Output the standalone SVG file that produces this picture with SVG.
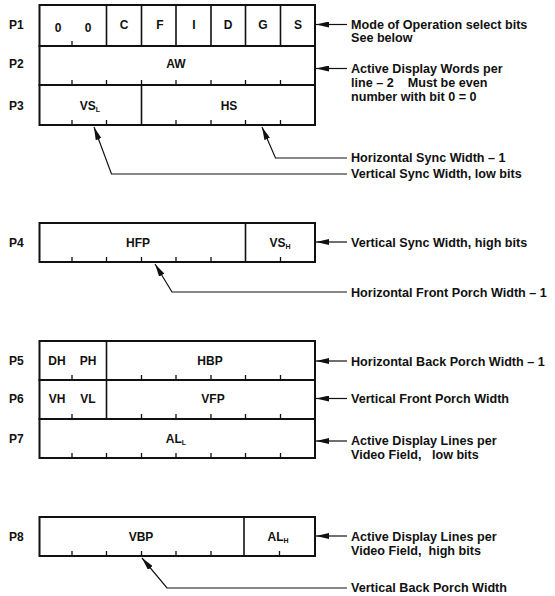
<svg xmlns="http://www.w3.org/2000/svg" width="555" height="596" viewBox="0 0 555 596">
<style>
.box{fill:none;stroke:#111;stroke-width:2}
.dv{stroke:#111;stroke-width:1.6;fill:none}
.tk{stroke:#111;stroke-width:1.3;fill:none}
.lbl{font-family:"Liberation Sans",Arial,sans-serif;font-weight:bold;font-size:12px;fill:#111}
.cell{font-family:"Liberation Sans",Arial,sans-serif;font-weight:bold;font-size:12px;fill:#111;text-anchor:middle}
.note{font-family:"Liberation Sans",Arial,sans-serif;font-weight:bold;font-size:12.6px;fill:#111}
.sub{font-size:7px}
.conn{stroke:#111;stroke-width:1.2;fill:none;marker-end:url(#ah)}
</style>
<defs>
<marker id="ah" viewBox="0 0 13 6" refX="13" refY="3" markerWidth="13" markerHeight="6" markerUnits="userSpaceOnUse" orient="auto">
<path d="M0,0 L13,3 L0,6 z" fill="#111"/>
</marker>
</defs>
<rect width="555" height="596" fill="#fff"/>

<g id="P1">
<text class="lbl" x="9" y="29">P1</text>
<rect class="box" x="39.5" y="5" width="275.5" height="41"/>
<path class="dv" d="M106.5,5V46M141.5,5V46M176,5V46M211,5V46M245.5,5V46M280.5,5V46"/>
<path class="tk" d="M72,41V46"/>
<text class="cell" x="58" y="32">0</text>
<text class="cell" x="88" y="32">0</text>
<text class="cell" x="124" y="29">C</text>
<text class="cell" x="160" y="29">F</text>
<text class="cell" x="194" y="29">I</text>
<text class="cell" x="228" y="29">D</text>
<text class="cell" x="263" y="29">G</text>
<text class="cell" x="298" y="29">S</text>
</g>

<g id="P2">
<text class="lbl" x="9" y="68">P2</text>
<rect class="box" x="39.5" y="46" width="275.5" height="39"/>
<path class="tk" d="M72,80V85M106.5,80V85M141.5,80V85M176,80V85M211,80V85M245.5,80V85M280.5,80V85"/>
<text class="cell" x="176" y="68">AW</text>
</g>

<g id="P3">
<text class="lbl" x="9" y="110">P3</text>
<rect class="box" x="39.5" y="85" width="275.5" height="40"/>
<path class="dv" d="M141.5,85V125"/>
<path class="tk" d="M72,120V125M106.5,120V125M176,120V125M211,120V125M245.5,120V125M280.5,120V125"/>
<text class="cell" x="90" y="110">VS<tspan class="sub" dy="2">L</tspan></text>
<text class="cell" x="229" y="110">HS</text>
</g>

<g id="P4">
<text class="lbl" x="9" y="247">P4</text>
<rect class="box" x="39.5" y="223" width="275.5" height="39"/>
<path class="dv" d="M245.5,223V262"/>
<path class="tk" d="M72,257V262M106.5,257V262M141.5,257V262M176,257V262M211,257V262M280.5,257V262"/>
<text class="cell" x="138" y="247">HFP</text>
<text class="cell" x="280" y="247">VS<tspan class="sub" dy="2">H</tspan></text>
</g>

<g id="P5">
<text class="lbl" x="9" y="365">P5</text>
<rect class="box" x="39.5" y="341" width="275.5" height="39"/>
<path class="dv" d="M106.5,341V380"/>
<path class="tk" d="M72,375V380M141.5,375V380M176,375V380M211,375V380M245.5,375V380M280.5,375V380"/>
<text class="cell" x="57" y="365">DH</text>
<text class="cell" x="88" y="365">PH</text>
<text class="cell" x="210" y="365">HBP</text>
</g>

<g id="P6">
<text class="lbl" x="9" y="403">P6</text>
<rect class="box" x="39.5" y="380" width="275.5" height="39"/>
<path class="dv" d="M106.5,380V419"/>
<path class="tk" d="M72,414V419M141.5,414V419M176,414V419M211,414V419M245.5,414V419M280.5,414V419"/>
<text class="cell" x="57" y="403">VH</text>
<text class="cell" x="88" y="403">VL</text>
<text class="cell" x="213" y="403">VFP</text>
</g>

<g id="P7">
<text class="lbl" x="9" y="443">P7</text>
<rect class="box" x="39.5" y="419" width="275.5" height="39"/>
<path class="tk" d="M72,453V458M106.5,453V458M141.5,453V458M176,453V458M211,453V458M245.5,453V458M280.5,453V458"/>
<text class="cell" x="176" y="443">AL<tspan class="sub" dy="2">L</tspan></text>
</g>

<g id="P8">
<text class="lbl" x="9" y="541">P8</text>
<rect class="box" x="39.5" y="517" width="275.5" height="39"/>
<path class="dv" d="M244,517V556"/>
<path class="tk" d="M72,551V556M106.5,551V556M141.5,551V556M176,551V556M211,551V556M279.5,551V556"/>
<text class="cell" x="141" y="541">VBP</text>
<text class="cell" x="278" y="541">AL<tspan class="sub" dy="2">H</tspan></text>
</g>

<g id="notes">
<text class="note" x="351" y="28.5">Mode of Operation select bits</text>
<text class="note" x="351" y="41.5">See below</text>
<text class="note" x="351" y="73">Active Display Words per</text>
<text class="note" x="351" y="87" xml:space="preserve">line – 2    Must be even</text>
<text class="note" x="351" y="101">number with bit 0 = 0</text>
<text class="note" x="351" y="162">Horizontal Sync Width – 1</text>
<text class="note" x="351" y="178">Vertical Sync Width, low bits</text>
<text class="note" x="351" y="246.5">Vertical Sync Width, high bits</text>
<text class="note" x="351" y="296.5">Horizontal Front Porch Width – 1</text>
<text class="note" x="351" y="365.5">Horizontal Back Porch Width – 1</text>
<text class="note" x="351" y="403">Vertical Front Porch Width</text>
<text class="note" x="351" y="445">Active Display Lines per</text>
<text class="note" x="351" y="458.5" xml:space="preserve">Video Field,   low bits</text>
<text class="note" x="351" y="540.5">Active Display Lines per</text>
<text class="note" x="351" y="554.5" xml:space="preserve">Video Field,  high bits</text>
<text class="note" x="351" y="592">Vertical Back Porch Width</text>
</g>

<g id="connectors">
<path class="conn" d="M347,24.5H316"/>
<path class="conn" d="M347,68.5H316"/>
<path class="conn" d="M347,158H275.5L262,127"/>
<path class="conn" d="M347,174H111.5L94,127"/>
<path class="conn" d="M347,242H316"/>
<path class="conn" d="M347,292H172L155,264"/>
<path class="conn" d="M347,361H316"/>
<path class="conn" d="M347,398.5H316"/>
<path class="conn" d="M347,441H316"/>
<path class="conn" d="M347,536H316"/>
<path class="conn" d="M347,588H167L142,558"/>
</g>
</svg>
